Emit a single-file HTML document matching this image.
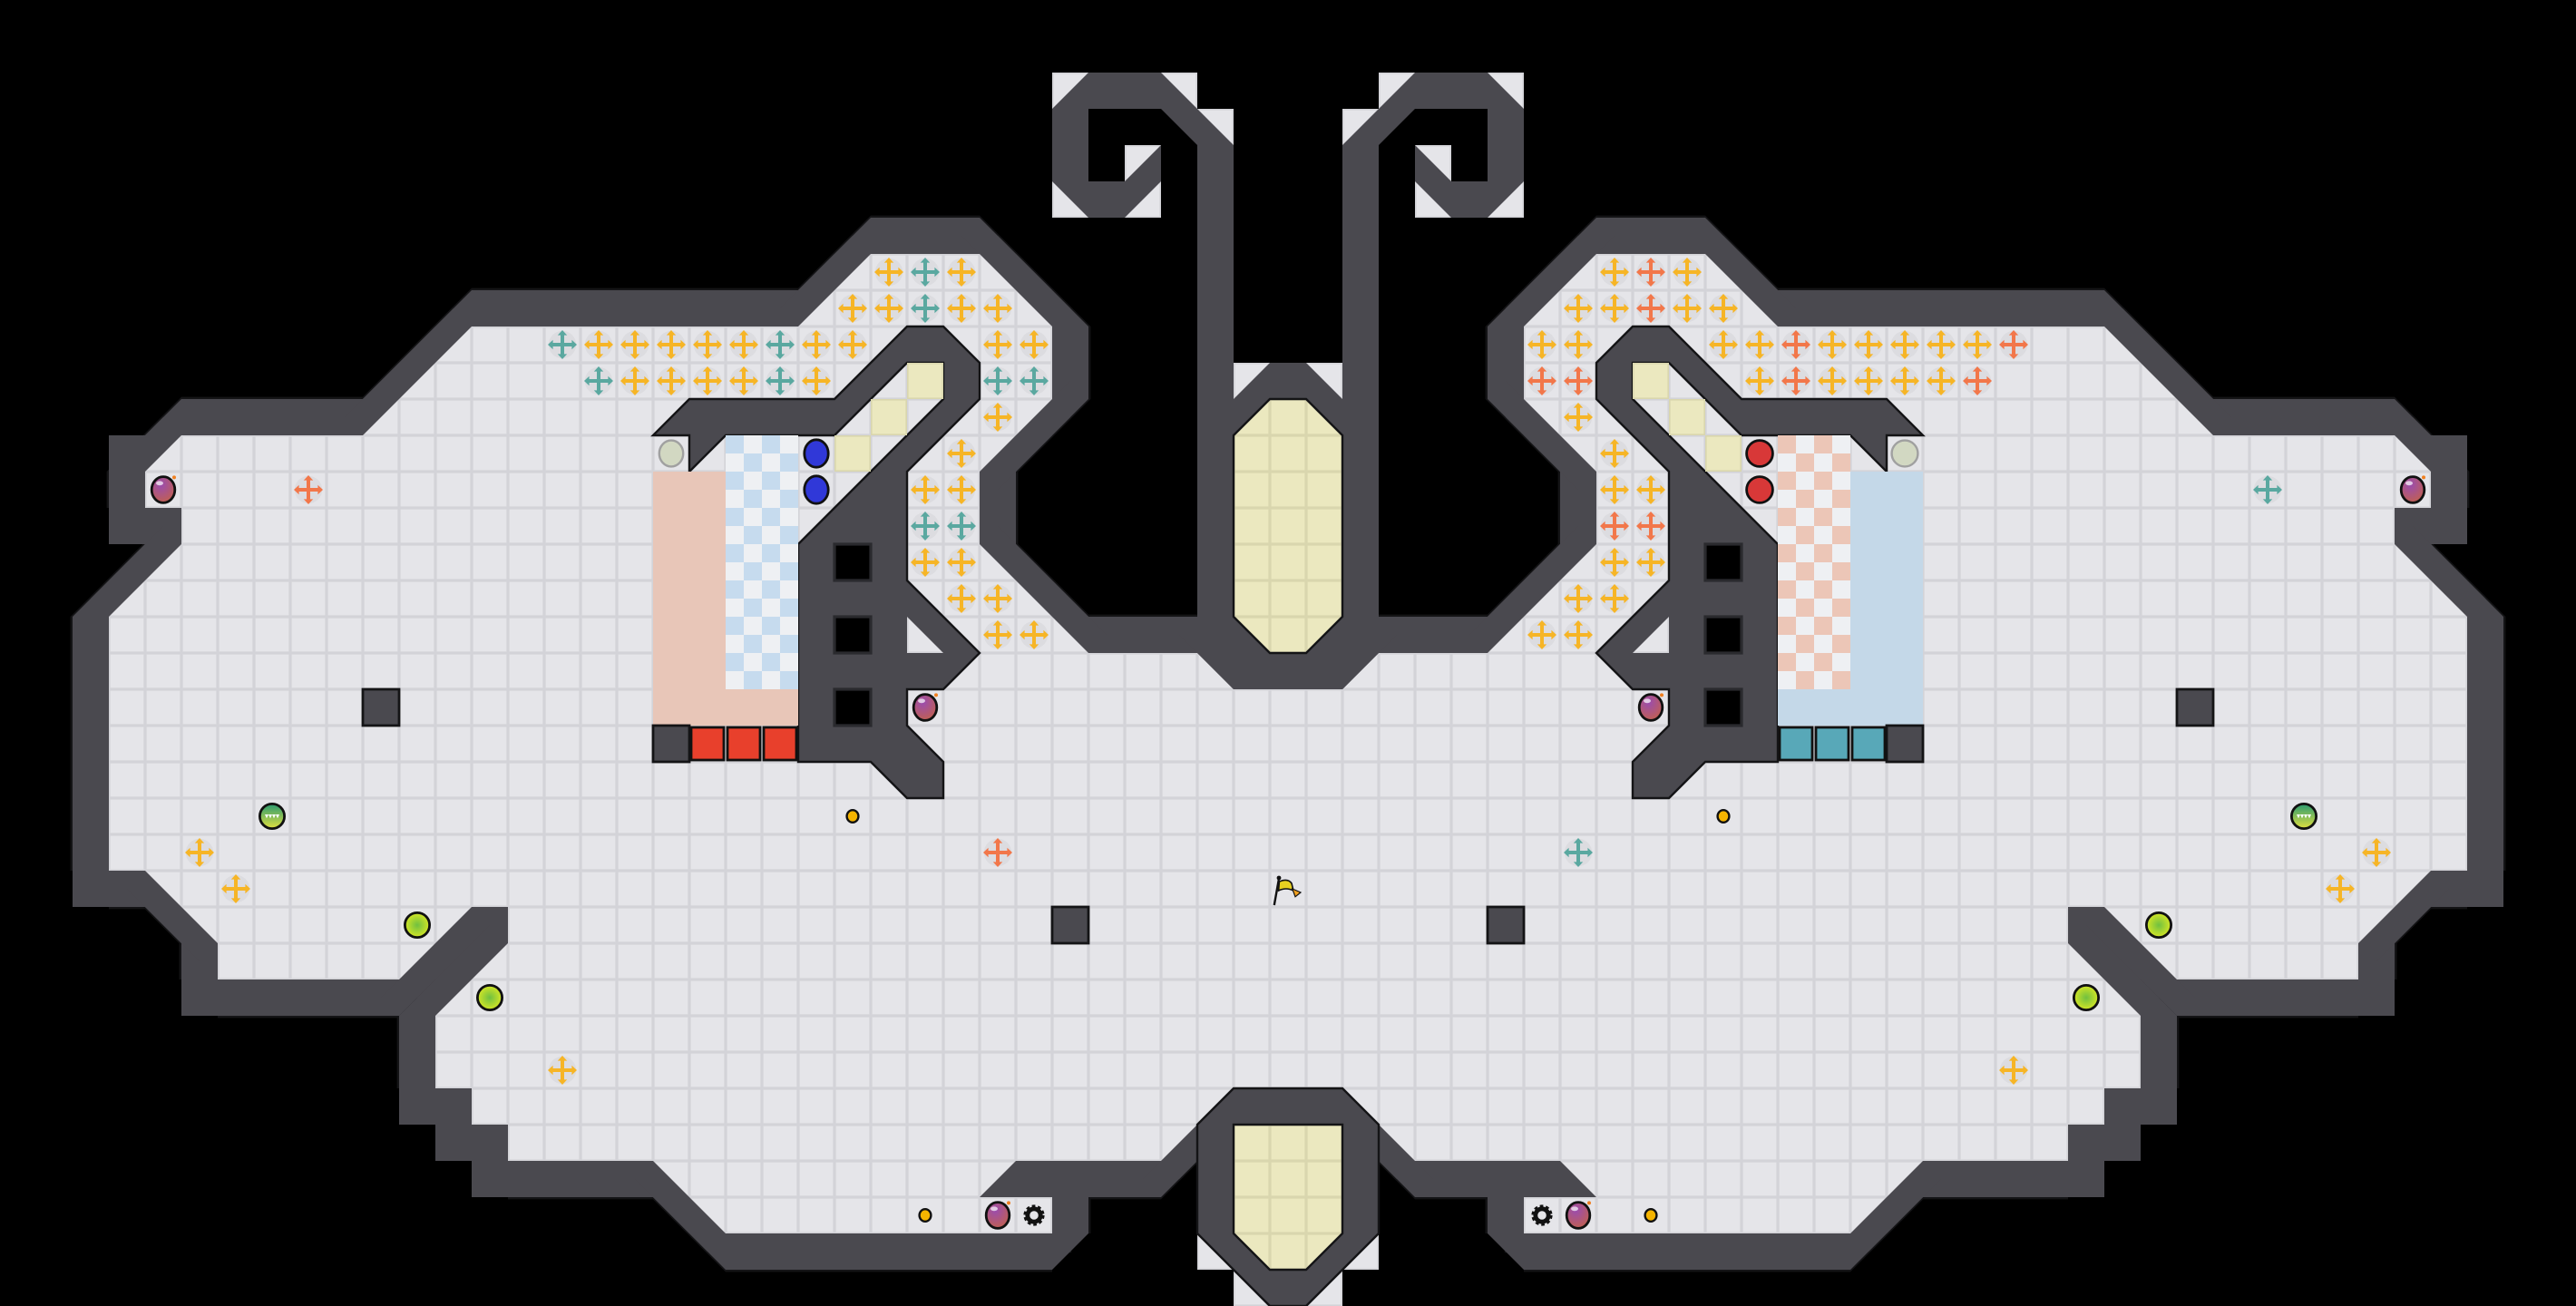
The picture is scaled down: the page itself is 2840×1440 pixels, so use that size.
<!DOCTYPE html>
<html><head><meta charset="utf-8"><style>
html,body{margin:0;padding:0;background:#000;}
svg{display:block;}
</style></head><body>
<svg width="2840" height="1440" viewBox="0 0 71 36" xmlns="http://www.w3.org/2000/svg" xmlns:xlink="http://www.w3.org/1999/xlink">
<defs>
<pattern id="g" patternUnits="userSpaceOnUse" width="1" height="1">
<rect width="1" height="1" fill="#d3d3d8"/>
<rect x="0.04" y="0.04" width="0.92" height="0.92" fill="#e5e5e9"/>
</pattern>
<pattern id="yg" patternUnits="userSpaceOnUse" width="1" height="1">
<rect width="1" height="1" fill="#d9d6ae"/>
<rect x="0.04" y="0.04" width="0.92" height="0.92" fill="#ebe8bf"/>
</pattern>
<pattern id="bc" patternUnits="userSpaceOnUse" width="1" height="1">
<rect width="1" height="1" fill="#eef0f3"/>
<rect width="0.5" height="0.5" fill="#c6dbee"/>
<rect x="0.5" y="0.5" width="0.5" height="0.5" fill="#c6dbee"/>
</pattern>
<pattern id="sc" patternUnits="userSpaceOnUse" width="1" height="1">
<rect width="1" height="1" fill="#eef0f3"/>
<rect width="0.5" height="0.5" fill="#ecc6b7"/>
<rect x="0.5" y="0.5" width="0.5" height="0.5" fill="#ecc6b7"/>
</pattern>
<path id="F" d="M35.6,19 L34,19 L33,18 L30,18 L27,15 L27,13 L29,11 L29,9 L27,7 L24,7 L22,9 L13,9 L10,12 L5,12 L4,13 L4,14 L5,14 L5,15 L3,17 L3,24 L4,24 L6,26 L6,27 L11,27 L13,25 L14,25 L14,26 L12,28 L12,30 L13,30 L13,31 L14,31 L14,32 L18,32 L20,34 L29,34 L29,33 L27,33 L28,32 L32,32 L34,30 L35.6,30 Z"/>
<g id="W">
<use href="#F" x="1"/><use href="#F" x="-1"/><use href="#F" y="1"/><use href="#F" y="-1"/>
<use href="#F" x="0.5" y="0.5"/><use href="#F" x="-0.5" y="0.5"/><use href="#F" x="0.5" y="-0.5"/><use href="#F" x="-0.5" y="-0.5"/>
<rect x="3" y="12" width="1" height="1"/><rect x="3" y="14" width="1" height="1"/>
<rect x="2" y="24" width="1" height="1"/><rect x="5" y="27" width="1" height="1"/>
<rect x="11" y="30" width="1" height="1"/><rect x="12" y="31" width="1" height="1"/><rect x="13" y="32" width="1" height="1"/>
<rect x="14" y="24" width="1" height="1"/>
<polygon points="29,34 30,34 29,35"/>
</g>
<g id="WO">
<use href="#F" x="1.06"/><use href="#F" x="-1.06"/><use href="#F" y="1.06"/><use href="#F" y="-1.06"/>
<use href="#F" x="0.53" y="0.53"/><use href="#F" x="-0.53" y="0.53"/><use href="#F" x="0.53" y="-0.53"/><use href="#F" x="-0.53" y="-0.53"/>
</g>
<path id="T" d="M35.6,10 L35,10 L34,11 L34,4 L32,2 L30,2 L29,3 L29,5 L30,6 L31,6 L32,5 L32,4 L31,5 L30,5 L30,3 L32,3 L33,4 L33,18 L34,19 L35.6,19 Z"/>
<path id="H" d="M19,11 L23,11 L25,9 L26,9 L27,10 L27,11 L25,13 L25,16 L27,18 L26,19 L25,19 L25,20 L26,21 L26,22 L25,22 L24,21 L22,21 L22,15 L26,11 L26,10 L25,10 L23,12 L20,12 L19,13 L19,12 L18,12 Z"/>
<g id="p">
<circle cx="0.5" cy="0.5" r="0.38" fill="#d8d8dc" opacity="0.7"/>
<rect x="0.2" y="0.45" width="0.6" height="0.1" fill="currentColor"/>
<rect x="0.45" y="0.2" width="0.1" height="0.6" fill="currentColor"/>
<polygon points="0.76,0.37 0.9,0.5 0.76,0.63" fill="currentColor"/>
<polygon points="0.24,0.37 0.1,0.5 0.24,0.63" fill="currentColor"/>
<polygon points="0.37,0.24 0.5,0.1 0.63,0.24" fill="currentColor"/>
<polygon points="0.37,0.76 0.5,0.9 0.63,0.76" fill="currentColor"/>
</g>
<radialGradient id="bombg" cx="0.4" cy="0.3" r="0.75"><stop offset="0" stop-color="#9a4cb0"/><stop offset="1" stop-color="#c2604e"/></radialGradient>
<g id="bomb"><ellipse cx="0.5" cy="0.5" rx="0.32" ry="0.36" fill="url(#bombg)" stroke="#111" stroke-width="0.07"/><ellipse cx="0.4" cy="0.32" rx="0.1" ry="0.06" fill="#fff" opacity="0.7"/><circle cx="0.8" cy="0.16" r="0.05" fill="#f08020"/></g>
<radialGradient id="ygg" cx="0.5" cy="0.5" r="0.6"><stop offset="0" stop-color="#70c040"/><stop offset="1" stop-color="#e8ee20"/></radialGradient>
<g id="yb"><ellipse cx="0.5" cy="0.5" rx="0.34" ry="0.34" fill="url(#ygg)" stroke="#111" stroke-width="0.07"/></g>
<linearGradient id="gsg" x1="0" y1="0" x2="0" y2="1"><stop offset="0" stop-color="#2a9a70"/><stop offset="1" stop-color="#e0e040"/></linearGradient>
<g id="gs"><ellipse cx="0.5" cy="0.5" rx="0.34" ry="0.34" fill="url(#gsg)" stroke="#111" stroke-width="0.07"/><path d="M0.3,0.45 L0.7,0.45 L0.65,0.56 L0.6,0.45 L0.55,0.56 L0.5,0.45 L0.45,0.56 L0.4,0.45 L0.35,0.56 Z" fill="#fff"/></g>
<g id="coin"><ellipse cx="0.5" cy="0.5" rx="0.16" ry="0.17" fill="#f5b400" stroke="#111" stroke-width="0.06"/></g>
<g id="gear"><circle cx="0.5" cy="0.5" r="0.22" fill="none" stroke="#111" stroke-width="0.14" stroke-dasharray="0.08 0.06"/><circle cx="0.5" cy="0.5" r="0.18" fill="none" stroke="#111" stroke-width="0.12"/></g>
</defs>
<rect width="71" height="36" fill="#000"/>
<g fill="#141416">
<use href="#WO"/>
<use href="#WO" transform="matrix(-1 0 0 1 71 0)"/>
</g>
<g fill="#4a494f">
<use href="#W"/>
<use href="#W" transform="matrix(-1 0 0 1 71 0)"/>
</g>
<use href="#F" fill="url(#g)"/>
<use href="#F" fill="url(#g)" transform="matrix(-1 0 0 1 71 0)"/>
<g fill="url(#g)">
<rect x="33" y="34" width="1" height="1"/><rect x="34" y="35" width="1" height="1"/>
<rect x="36" y="35" width="1" height="1"/><rect x="37" y="34" width="1" height="1"/>
<rect x="34" y="10" width="1" height="1"/><rect x="36" y="10" width="1" height="1"/>
<rect x="29" y="2" width="1" height="1"/><rect x="32" y="2" width="1" height="1"/><rect x="33" y="3" width="1" height="1"/>
<rect x="29" y="5" width="1" height="1"/><rect x="31" y="5" width="1" height="1"/><rect x="31" y="4" width="1" height="1"/>
<rect x="41" y="2" width="1" height="1"/><rect x="38" y="2" width="1" height="1"/><rect x="37" y="3" width="1" height="1"/>
<rect x="41" y="5" width="1" height="1"/><rect x="39" y="5" width="1" height="1"/><rect x="39" y="4" width="1" height="1"/>
</g>
<g fill="#4a494f">
<use href="#T"/>
<use href="#T" transform="matrix(-1 0 0 1 71 0)"/>
</g>
<polygon points="34,12 35,11 36,11 37,12 37,17 36,18 35,18 34,17" fill="url(#yg)" stroke="#141416" stroke-width="0.06"/>
<polygon points="33,31 34,30 37,30 38,31 38,34 36,36 35,36 33,34" fill="#4a494f" stroke="#141416" stroke-width="0.06"/>
<polygon points="34,31 37,31 37,34 36,35 35,35 34,34" fill="url(#yg)" stroke="#141416" stroke-width="0.06"/>
<g fill="#4a494f" stroke="#141416" stroke-width="0.06">
<use href="#H"/>
<use href="#H" transform="matrix(-1 0 0 1 71 0)"/>
</g>
<g fill="url(#g)">
<polygon points="25,17 26,18 25,18"/>
<polygon points="46,17 45,18 46,18"/>
</g>
<g fill="#000" stroke="#2a2a2e" stroke-width="0.08">
<rect x="23" y="15" width="1" height="1"/><rect x="23" y="17" width="1" height="1"/><rect x="23" y="19" width="1" height="1"/>
<rect x="47" y="15" width="1" height="1"/><rect x="47" y="17" width="1" height="1"/><rect x="47" y="19" width="1" height="1"/>
</g>
<g fill="url(#yg)">
<rect x="25" y="10" width="1" height="1"/><rect x="24" y="11" width="1" height="1"/><rect x="23" y="12" width="1" height="1"/>
<rect x="45" y="10" width="1" height="1"/><rect x="46" y="11" width="1" height="1"/><rect x="47" y="12" width="1" height="1"/>
</g>
<rect x="18" y="13" width="2" height="7" fill="#e8c6b8"/>
<rect x="20" y="19" width="2" height="1" fill="#e8c6b8"/>
<rect x="20" y="12" width="2" height="7" fill="url(#bc)"/>
<rect x="51" y="13" width="2" height="7" fill="#c4d8e8"/>
<rect x="49" y="19" width="2" height="1" fill="#c4d8e8"/>
<rect x="49" y="12" width="2" height="7" fill="url(#sc)"/>
<g fill="#4a494f" stroke="#141416" stroke-width="0.07">
<rect x="18" y="20" width="1" height="1"/><rect x="52" y="20" width="1" height="1"/>
<rect x="10" y="19" width="1" height="1"/><rect x="60" y="19" width="1" height="1"/>
<rect x="29" y="25" width="1" height="1"/><rect x="41" y="25" width="1" height="1"/>
</g>
<g stroke="#111" stroke-width="0.07">
<rect x="19.05" y="20.05" width="0.9" height="0.9" fill="#e8402c"/><rect x="20.05" y="20.05" width="0.9" height="0.9" fill="#e8402c"/><rect x="21.05" y="20.05" width="0.9" height="0.9" fill="#e8402c"/>
<rect x="49.05" y="20.05" width="0.9" height="0.9" fill="#58a8b8"/><rect x="50.05" y="20.05" width="0.9" height="0.9" fill="#58a8b8"/><rect x="51.05" y="20.05" width="0.9" height="0.9" fill="#58a8b8"/>
</g>
<g stroke="#111" stroke-width="0.07">
<ellipse cx="22.5" cy="12.5" rx="0.33" ry="0.38" fill="#3038d8"/><ellipse cx="22.5" cy="13.5" rx="0.33" ry="0.38" fill="#3038d8"/>
<ellipse cx="48.5" cy="12.5" rx="0.36" ry="0.36" fill="#d83838"/><ellipse cx="48.5" cy="13.5" rx="0.36" ry="0.36" fill="#d83838"/>
</g>
<g stroke="#a0a0a0" stroke-width="0.06" fill="#d2d8c2">
<ellipse cx="18.5" cy="12.5" rx="0.33" ry="0.36"/><ellipse cx="52.5" cy="12.5" rx="0.36" ry="0.36"/>
</g>
<g color="#f6b526">
<use href="#p" x="24" y="7"/><use href="#p" x="26" y="7"/>
<use href="#p" x="23" y="8"/><use href="#p" x="24" y="8"/><use href="#p" x="26" y="8"/><use href="#p" x="27" y="8"/>
<use href="#p" x="16" y="9"/><use href="#p" x="17" y="9"/><use href="#p" x="18" y="9"/><use href="#p" x="19" y="9"/><use href="#p" x="20" y="9"/><use href="#p" x="22" y="9"/><use href="#p" x="23" y="9"/><use href="#p" x="27" y="9"/><use href="#p" x="28" y="9"/>
<use href="#p" x="17" y="10"/><use href="#p" x="18" y="10"/><use href="#p" x="19" y="10"/><use href="#p" x="20" y="10"/><use href="#p" x="22" y="10"/>
<use href="#p" x="27" y="11"/><use href="#p" x="26" y="12"/><use href="#p" x="25" y="13"/><use href="#p" x="26" y="13"/>
<use href="#p" x="25" y="15"/><use href="#p" x="26" y="15"/><use href="#p" x="26" y="16"/><use href="#p" x="27" y="16"/><use href="#p" x="27" y="17"/><use href="#p" x="28" y="17"/>
<use href="#p" x="5" y="23"/><use href="#p" x="6" y="24"/><use href="#p" x="15" y="29"/>
<use href="#p" x="44" y="7"/><use href="#p" x="46" y="7"/>
<use href="#p" x="43" y="8"/><use href="#p" x="44" y="8"/><use href="#p" x="46" y="8"/><use href="#p" x="47" y="8"/>
<use href="#p" x="42" y="9"/><use href="#p" x="43" y="9"/><use href="#p" x="47" y="9"/><use href="#p" x="48" y="9"/><use href="#p" x="50" y="9"/><use href="#p" x="51" y="9"/><use href="#p" x="52" y="9"/><use href="#p" x="53" y="9"/><use href="#p" x="54" y="9"/>
<use href="#p" x="48" y="10"/><use href="#p" x="50" y="10"/><use href="#p" x="51" y="10"/><use href="#p" x="52" y="10"/><use href="#p" x="53" y="10"/>
<use href="#p" x="43" y="11"/><use href="#p" x="44" y="12"/><use href="#p" x="44" y="13"/><use href="#p" x="45" y="13"/>
<use href="#p" x="44" y="15"/><use href="#p" x="45" y="15"/><use href="#p" x="43" y="16"/><use href="#p" x="44" y="16"/><use href="#p" x="42" y="17"/><use href="#p" x="43" y="17"/>
<use href="#p" x="65" y="23"/><use href="#p" x="64" y="24"/><use href="#p" x="55" y="29"/>
</g>
<g color="#5aa8a0">
<use href="#p" x="25" y="7"/><use href="#p" x="25" y="8"/><use href="#p" x="15" y="9"/><use href="#p" x="21" y="9"/>
<use href="#p" x="16" y="10"/><use href="#p" x="21" y="10"/><use href="#p" x="27" y="10"/><use href="#p" x="28" y="10"/>
<use href="#p" x="25" y="14"/><use href="#p" x="26" y="14"/>
<use href="#p" x="62" y="13"/><use href="#p" x="43" y="23"/>
</g>
<g color="#f2774a">
<use href="#p" x="45" y="7"/><use href="#p" x="45" y="8"/><use href="#p" x="49" y="9"/><use href="#p" x="55" y="9"/>
<use href="#p" x="42" y="10"/><use href="#p" x="43" y="10"/><use href="#p" x="49" y="10"/><use href="#p" x="54" y="10"/>
<use href="#p" x="44" y="14"/><use href="#p" x="45" y="14"/>
<use href="#p" x="8" y="13"/><use href="#p" x="27" y="23"/>
</g>
<use href="#bomb" x="4" y="13"/><use href="#bomb" x="25" y="19"/><use href="#bomb" x="27" y="33"/>
<use href="#bomb" x="66" y="13"/><use href="#bomb" x="45" y="19"/><use href="#bomb" x="43" y="33"/>
<use href="#gs" x="7" y="22"/><use href="#gs" x="63" y="22"/>
<use href="#yb" x="11" y="25"/><use href="#yb" x="13" y="27"/><use href="#yb" x="59" y="25"/><use href="#yb" x="57" y="27"/>
<use href="#coin" x="23" y="22"/><use href="#coin" x="25" y="33"/><use href="#coin" x="47" y="22"/><use href="#coin" x="45" y="33"/>
<use href="#gear" x="28" y="33"/><use href="#gear" x="42" y="33"/>
<g transform="translate(35,24)">
<line x1="0.12" y1="0.95" x2="0.25" y2="0.22" stroke="#111" stroke-width="0.06"/>
<circle cx="0.25" cy="0.2" r="0.06" fill="#111"/>
<path d="M0.26,0.3 Q0.5,0.2 0.6,0.35 L0.65,0.55 Q0.45,0.45 0.24,0.55 Z" fill="#e8d020" stroke="#111" stroke-width="0.04"/>
<path d="M0.62,0.5 L0.85,0.6 L0.7,0.72 Z" fill="#f0a020" stroke="#111" stroke-width="0.03"/>
</g>
</svg>
</body></html>
